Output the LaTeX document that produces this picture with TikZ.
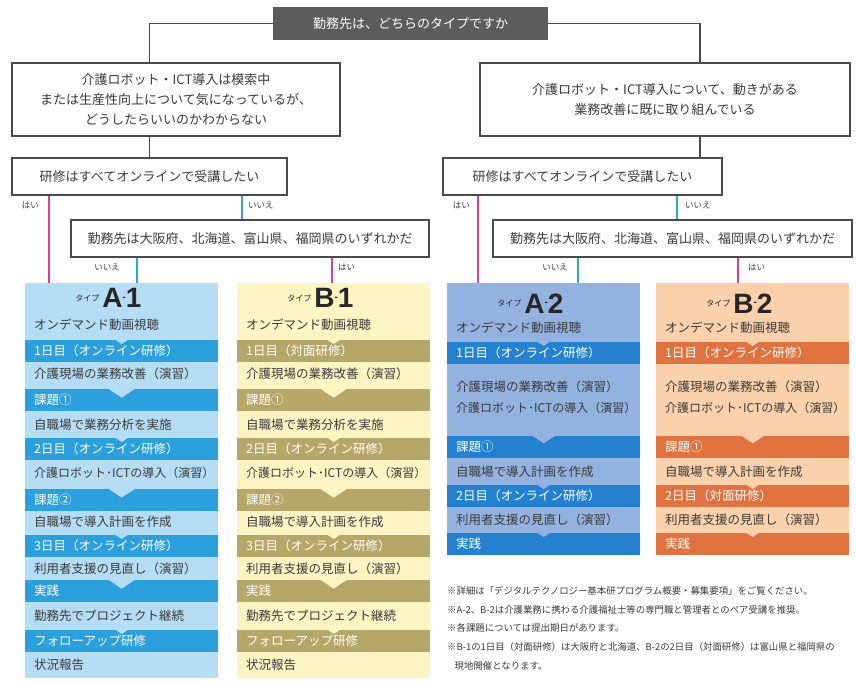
\documentclass[tikz,border=0pt]{standalone}
\usepackage{fontspec}
\setmainfont{Noto Sans CJK JP}
\newfontfamily\latinbold{Liberation Sans}
\usetikzlibrary{calc}
\definecolor{boxgray}{HTML}{5C5C5C}
\definecolor{linegray}{HTML}{4A4A4A}
\definecolor{txt}{HTML}{3A3A3A}
\definecolor{yespink}{HTML}{E23A8E}
\definecolor{noblue}{HTML}{2BA8DA}
\definecolor{aonebg}{HTML}{B5DDF4}
\definecolor{aoneband}{HTML}{2C9FDD}
\definecolor{bonebg}{HTML}{FDF4C4}
\definecolor{boneband}{HTML}{B5A767}
\definecolor{atwobg}{HTML}{93B2DF}
\definecolor{atwoband}{HTML}{2381CF}
\definecolor{btwobg}{HTML}{FAD1AA}
\definecolor{btwoband}{HTML}{E0723F}
\newcommand\titletype[2]{\raisebox{6pt}{\fontsize{8}{8}\selectfont タイプ}\hspace{3pt}{\latinbold\bfseries\fontsize{28}{28}\selectfont #1}\raisebox{7pt}{\latinbold\bfseries\fontsize{10}{10}\selectfont -}{\latinbold\bfseries\fontsize{28}{28}\selectfont #2}}
\newcommand\ictrow{{\fontsize{12}{14}\selectfont 介護ロボット･ICTの導入（演習）}}
% #1 name, #2 left, #3 top, #4 band colour, #5 bg colour, #6 notch width, #7 text
\newcommand\colband[7]{%
  \node[bandbox, fill=#4, anchor=north west] (#1) at (#2,#3) {#7};
  \fill[#5] ($(#1.north)+(-#6/2,0)$) -- ($(#1.north)+(#6/2,0)$) -- ($(#1.north)+(0,#6/3)$) -- cycle;
}
\begin{document}
\begin{tikzpicture}[x=1pt,y=-1pt,
  conn/.style={draw=linegray, line width=1.2pt},
  qbox/.style={draw=linegray, line width=1.4pt, fill=white, text=txt, align=center, inner sep=0pt, font=\fontsize{13}{20}\selectfont},
  topbox/.style={fill=boxgray, text=white, inner sep=0pt, font=\fontsize{13}{16}\selectfont},
  yesline/.style={draw=yespink, line width=2.4pt},
  noline/.style={draw=noblue, line width=2.4pt},
  ans/.style={text=txt, inner sep=0pt, font=\fontsize{8.5}{9}\selectfont},
  colbg/.style={inner sep=0pt, anchor=north west, minimum width=193pt},
  bandbox/.style={inner xsep=9pt, inner ysep=0pt, minimum height=22pt, text width=175pt, align=left, text=white, font=\fontsize{12.5}{14}\selectfont},
  rowtext/.style={anchor=west, inner sep=0pt, text=txt, font=\fontsize{12.5}{14}\selectfont},
  ttl/.style={anchor=base, inner sep=0pt, text=black!85},
  note/.style={anchor=north west, inner sep=0pt, align=left, text=txt, font=\fontsize{9.4}{18.8}\selectfont}
]
\useasboundingbox (0,0) rectangle (856,684);
\fill[white] (0,0) rectangle (856,684);

% decision boxes
\node[topbox, minimum width=275pt, minimum height=33pt] (top) at (410.5,23.5) {勤務先は、どちらのタイプですか};
\node[qbox, minimum width=328pt, minimum height=73pt] (qL) at (176,99.5) {介護ロボット・ICT導入は模索中\\または生産性向上について気になっているが、\\どうしたらいいのかわからない};
\node[qbox, minimum width=370pt, minimum height=73pt] (qR) at (665,99.5) {介護ロボット・ICT導入について、動きがある\\業務改善に既に取り組んでいる};
\node[qbox, minimum width=275pt, minimum height=37pt] (onL) at (149.5,176.5) {研修はすべてオンラインで受講したい};
\node[qbox, minimum width=279pt, minimum height=37pt] (onR) at (582.5,176.5) {研修はすべてオンラインで受講したい};
\node[qbox, minimum width=358pt, minimum height=37pt] (regL) at (250,238.5) {勤務先は大阪府、北海道、富山県、福岡県のいずれかだ};
\node[qbox, minimum width=359pt, minimum height=37pt] (regR) at (672.5,238.5) {勤務先は大阪府、北海道、富山県、福岡県のいずれかだ};

% columns
\node[colbg, fill=aonebg, minimum height=395pt] (A1) at (25,283) {};
\node[colbg, fill=bonebg, minimum height=395pt] (B1) at (237,283) {};
\node[colbg, fill=atwobg, minimum height=272pt] (A2) at (447,283) {};
\node[colbg, fill=btwobg, minimum height=272pt] (B2) at (656,283) {};

% connectors
\coordinate (xl) at (149.5,0);
\coordinate (xr) at (700,0);
\draw[conn] (top.west) -| (qL.north -| xl);
\draw[conn] (top.east) -| (qR.north -| xr);
\draw[conn] (qL.south -| xl) -- (onL.north -| xl);
\draw[conn] (qR.south -| xr) -- (onR.north -| xr);

\coordinate (yl1) at (49,0);
\coordinate (nl1) at (242,0);
\coordinate (nl2) at (137,0);
\coordinate (yl2) at (332,0);
\coordinate (yr1) at (478,0);
\coordinate (nr1) at (677,0);
\coordinate (nr2) at (578,0);
\coordinate (yr2) at (738,0);
\draw[yesline] (onL.south -| yl1) -- (A1.north -| yl1);
\draw[noline] (onL.south -| nl1) -- (regL.north -| nl1);
\draw[noline] (regL.south -| nl2) -- (A1.north -| nl2);
\draw[yesline] (regL.south -| yl2) -- (B1.north -| yl2);
\draw[yesline] (onR.south -| yr1) -- (A2.north -| yr1);
\draw[noline] (onR.south -| nr1) -- (regR.north -| nr1);
\draw[noline] (regR.south -| nr2) -- (A2.north -| nr2);
\draw[yesline] (regR.south -| yr2) -- (B2.north -| yr2);

\node[ans, anchor=east] (al1) at (39,205) {はい};
\node[ans, anchor=west] (al2) at (248,205) {いいえ};
\node[ans, anchor=east] (al3) at (120,267) {いいえ};
\node[ans, anchor=west] (al4) at (338,267) {はい};
\node[ans, anchor=east] (ar1) at (470,205) {はい};
\node[ans, anchor=west] (ar2) at (685,205) {いいえ};
\node[ans, anchor=east] (ar3) at (568,267) {いいえ};
\node[ans, anchor=west] (ar4) at (748,267) {はい};

% ---- A-1
\node[ttl] (A1t) at (108.5,308) {\titletype{A}{1}};
\node[rowtext] (A1r0) at (34,325) {オンデマンド動画視聴};
\colband{A1b1}{25}{340}{aoneband}{aonebg}{12}{1日目（オンライン研修）}
\node[rowtext] (A1r1) at (34,374) {介護現場の業務改善（演習）};
\colband{A1b2}{25}{389}{aoneband}{aonebg}{26}{課題①}
\node[rowtext] (A1r2) at (34,425) {自職場で業務分析を実施};
\colband{A1b3}{25}{438}{aoneband}{aonebg}{12}{2日目（オンライン研修）}
\node[rowtext] (A1r3) at (34,473) {\ictrow};
\colband{A1b4}{25}{489}{aoneband}{aonebg}{26}{課題②}
\node[rowtext] (A1r4) at (34,522) {自職場で導入計画を作成};
\colband{A1b5}{25}{535}{aoneband}{aonebg}{12}{3日目（オンライン研修）}
\node[rowtext] (A1r5) at (34,569) {利用者支援の見直し（演習）};
\colband{A1b6}{25}{580}{aoneband}{aonebg}{26}{実践}
\node[rowtext] (A1r6) at (34,616) {勤務先でプロジェクト継続};
\colband{A1b7}{25}{630}{aoneband}{aonebg}{12}{フォローアップ研修}
\node[rowtext] (A1r7) at (34,665) {状況報告};

% ---- B-1
\node[ttl] (B1t) at (320.5,308) {\titletype{B}{1}};
\node[rowtext] (B1r0) at (246,325) {オンデマンド動画視聴};
\colband{B1b1}{237}{340}{boneband}{bonebg}{12}{1日目（対面研修）}
\node[rowtext] (B1r1) at (246,374) {介護現場の業務改善（演習）};
\colband{B1b2}{237}{389}{boneband}{bonebg}{26}{課題①}
\node[rowtext] (B1r2) at (246,425) {自職場で業務分析を実施};
\colband{B1b3}{237}{438}{boneband}{bonebg}{12}{2日目（オンライン研修）}
\node[rowtext] (B1r3) at (246,473) {\ictrow};
\colband{B1b4}{237}{489}{boneband}{bonebg}{26}{課題②}
\node[rowtext] (B1r4) at (246,522) {自職場で導入計画を作成};
\colband{B1b5}{237}{535}{boneband}{bonebg}{12}{3日目（オンライン研修）}
\node[rowtext] (B1r5) at (246,569) {利用者支援の見直し（演習）};
\colband{B1b6}{237}{580}{boneband}{bonebg}{26}{実践}
\node[rowtext] (B1r6) at (246,616) {勤務先でプロジェクト継続};
\colband{B1b7}{237}{630}{boneband}{bonebg}{12}{フォローアップ研修}
\node[rowtext] (B1r7) at (246,665) {状況報告};

% ---- A-2
\node[ttl] (A2t) at (530.5,313) {\titletype{A}{2}};
\node[rowtext] (A2r0) at (456,328) {オンデマンド動画視聴};
\colband{A2b1}{447}{342}{atwoband}{atwobg}{12}{1日目（オンライン研修）}
\node[rowtext] (A2r1) at (456,387) {介護現場の業務改善（演習）};
\node[rowtext] (A2r2) at (456,408) {\ictrow};
\colband{A2b2}{447}{436}{atwoband}{atwobg}{22}{課題①}
\node[rowtext] (A2r3) at (456,472) {自職場で導入計画を作成};
\colband{A2b3}{447}{485}{atwoband}{atwobg}{12}{2日目（オンライン研修）}
\node[rowtext] (A2r4) at (456,520) {利用者支援の見直し（演習）};
\colband{A2b4}{447}{533}{atwoband}{atwobg}{12}{実践}

% ---- B-2
\node[ttl] (B2t) at (739.5,313) {\titletype{B}{2}};
\node[rowtext] (B2r0) at (665,328) {オンデマンド動画視聴};
\colband{B2b1}{656}{342}{btwoband}{btwobg}{12}{1日目（オンライン研修）}
\node[rowtext] (B2r1) at (665,387) {介護現場の業務改善（演習）};
\node[rowtext] (B2r2) at (665,408) {\ictrow};
\colband{B2b2}{656}{436}{btwoband}{btwobg}{22}{課題①}
\node[rowtext] (B2r3) at (665,472) {自職場で導入計画を作成};
\colband{B2b3}{656}{485}{btwoband}{btwobg}{12}{2日目（対面研修）}
\node[rowtext] (B2r4) at (665,520) {利用者支援の見直し（演習）};
\colband{B2b4}{656}{533}{btwoband}{btwobg}{12}{実践}

% notes
\node[note] (notes) at (447,586) {※詳細は「デジタルテクノロジー基本研プログラム概要・募集要項」をご覧ください。\\
※A-2、B-2は介護業務に携わる介護福祉士等の専門職と管理者とのペア受講を推奨。\\
※各課題については提出期日があります。\\
※B-1の1日目（対面研修）は大阪府と北海道、B-2の2日目（対面研修）は富山県と福岡県の\\
\hspace*{0.8em}現地開催となります。};
\end{tikzpicture}
\end{document}
